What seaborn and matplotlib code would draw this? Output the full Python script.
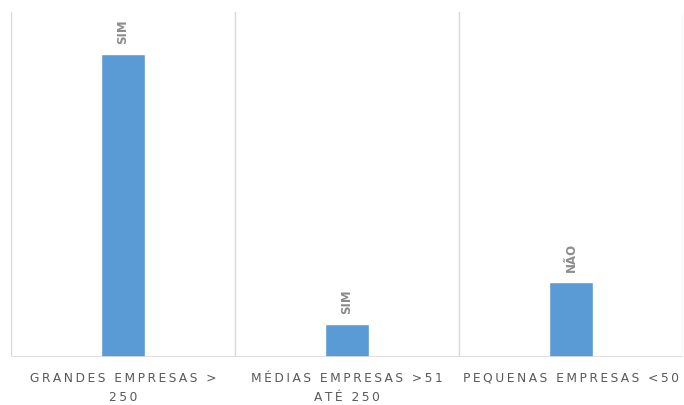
import matplotlib
matplotlib.use("Agg")
import matplotlib.pyplot as plt
import seaborn as sns
import pandas as pd

categories = ["GRANDES EMPRESAS >\n250", "MÉDIAS EMPRESAS >51\nATÉ 250", "PEQUENAS EMPRESAS <50"]
values = [87.8, 9.6, 21.7]
bar_labels = ["SIM", "SIM", "NÃO"]

sns.set_theme(style="white")
plt.rcParams['font.family'] = ['DejaVu Sans']

df = pd.DataFrame({"cat": categories, "val": values})

fig = plt.figure(figsize=(6.84, 4.06), dpi=100)
ax = fig.add_axes([11/684, (406-358)/406, (683-11)/684, (358-13)/406])

sns.barplot(data=df, x="cat", y="val", color="#5b9bd5", saturation=1, width=0.195, ax=ax)
ax.set_xlim(-0.5, 2.5)
ax.set_ylim(0, 100)

for x in [-0.5, 0.5, 1.5, 2.5]:
    ax.axvline(x, color="#d9d9d9", lw=1, zorder=0)
ax.axhline(0, color="#d9d9d9", lw=1.2, zorder=3)

ax.bar_label(ax.containers[0], labels=bar_labels, rotation=90, padding=8,
             color="#8c8c8c", fontsize=8.5, fontweight="semibold")

for s in ax.spines.values():
    s.set_visible(False)
ax.set_yticks([])
ax.set_xlabel("")
ax.set_ylabel("")

def spaced(s):
    return "\n".join("\u2009".join(line) for line in s.split("\n"))

ax.set_xticks(range(len(categories)))
ax.set_xticklabels([spaced(c) for c in categories])
ax.tick_params(axis="x", length=0, pad=10, labelsize=8.8, colors="#595959")
for t in ax.get_xticklabels():
    t.set_linespacing(1.6)

fig.savefig("out.png", dpi=100)
